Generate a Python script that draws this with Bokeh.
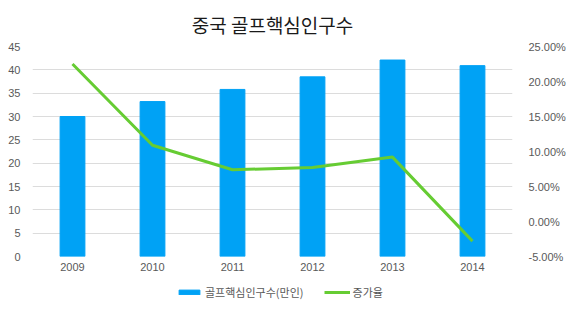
from bokeh.plotting import figure
from bokeh.layouts import column
from bokeh.models import Range1d, LinearAxis, FactorRange, NumeralTickFormatter, Legend, LegendItem, FixedTicker, ColumnDataSource
from bokeh.embed import file_html
from bokeh.resources import INLINE

years = ["2009", "2010", "2011", "2012", "2013", "2014"]
golfers = [30.0, 33.2, 35.8, 38.5, 42.1, 40.9]
growth = [0.225, 0.109, 0.074, 0.077, 0.092, -0.028]
series_names = ["골프핵심인구수(만인)", "증가율"]

FONT = "Noto Sans CJK KR"
BAR_COLOR = "#00a2f5"
LINE_COLOR = "#66cc33"

src = ColumnDataSource(dict(year=years, golfers=golfers, growth=growth))

p = figure(frame_width=480, frame_height=210, x_range=FactorRange(*years, range_padding=0),
           y_range=Range1d(0, 45), output_backend="svg", toolbar_location=None,
           title="중국 골프핵심인구수")
p.title.align = "center"
p.title.text_font = FONT
p.title.text_font_size = "19px"
p.title.text_font_style = "normal"
p.title.text_color = "#1a1a1a"
p.title.standoff = 17

p.min_border_left = 32
p.min_border_right = 68
p.min_border_top = 46
p.min_border_bottom = 24
p.outline_line_color = None
p.border_fill_color = "white"

p.extra_y_ranges = {"pct": Range1d(-0.05, 0.25)}

p.vbar(x="year", top="golfers", width=0.31, source=src, color=BAR_COLOR)
p.line(x="year", y="growth", source=src, y_range_name="pct", line_color=LINE_COLOR, line_width=3)

p.xgrid.grid_line_color = None
p.ygrid.grid_line_color = "#dcdcdc"
p.ygrid.ticker = FixedTicker(ticks=list(range(0, 50, 5)))

p.yaxis.ticker = FixedTicker(ticks=list(range(0, 50, 5)))
for ax in [p.yaxis[0], p.xaxis[0]]:
    ax.axis_line_color = None
    ax.major_tick_line_color = None
    ax.minor_tick_line_color = None
    ax.major_tick_out = 0
    ax.major_label_text_font = "Liberation Sans"
    ax.major_label_text_font_size = "11px"
    ax.major_label_text_color = "#595959"
p.xaxis.major_label_standoff = 6
p.yaxis.major_label_standoff = 12

rax = LinearAxis(y_range_name="pct", ticker=FixedTicker(ticks=[-0.05, 0, 0.05, 0.1, 0.15, 0.2, 0.25]),
                 formatter=NumeralTickFormatter(format="0.00%"))
rax.axis_line_color = None
rax.major_tick_line_color = None
rax.minor_tick_line_color = None
rax.major_tick_out = 0
rax.major_label_text_font = "Liberation Sans"
rax.major_label_text_font_size = "11px"
rax.major_label_text_color = "#595959"
rax.major_label_standoff = 16
p.add_layout(rax, "right")

# legend strip below the chart (its renderers use the same data, kept out of view)
lf = figure(width=580, height=37, x_range=FactorRange(*years), y_range=Range1d(1000, 1001),
            output_backend="svg", toolbar_location=None, min_border=0)
lf.axis.visible = False
lf.grid.visible = False
lf.outline_line_color = None
lb = lf.vbar(x="year", top="golfers", width=0.31, source=src, color=BAR_COLOR)
ll = lf.line(x="year", y="golfers", source=src, line_color=LINE_COLOR, line_width=3)
legend = Legend(items=[LegendItem(label=series_names[0], renderers=[lb]),
                       LegendItem(label=series_names[1], renderers=[ll])],
                orientation="horizontal", location=(144, 17),
                label_text_font=FONT, label_text_font_size="11px", label_text_color="#595959",
                glyph_width=26, glyph_height=6, spacing=20, border_line_color=None,
                background_fill_alpha=0,
                padding=0, margin=0, label_standoff=3, label_height=14)
lf.add_layout(legend, "center")

layout = column(p, lf, spacing=0)
open("out.html", "w").write(file_html(layout, INLINE))
